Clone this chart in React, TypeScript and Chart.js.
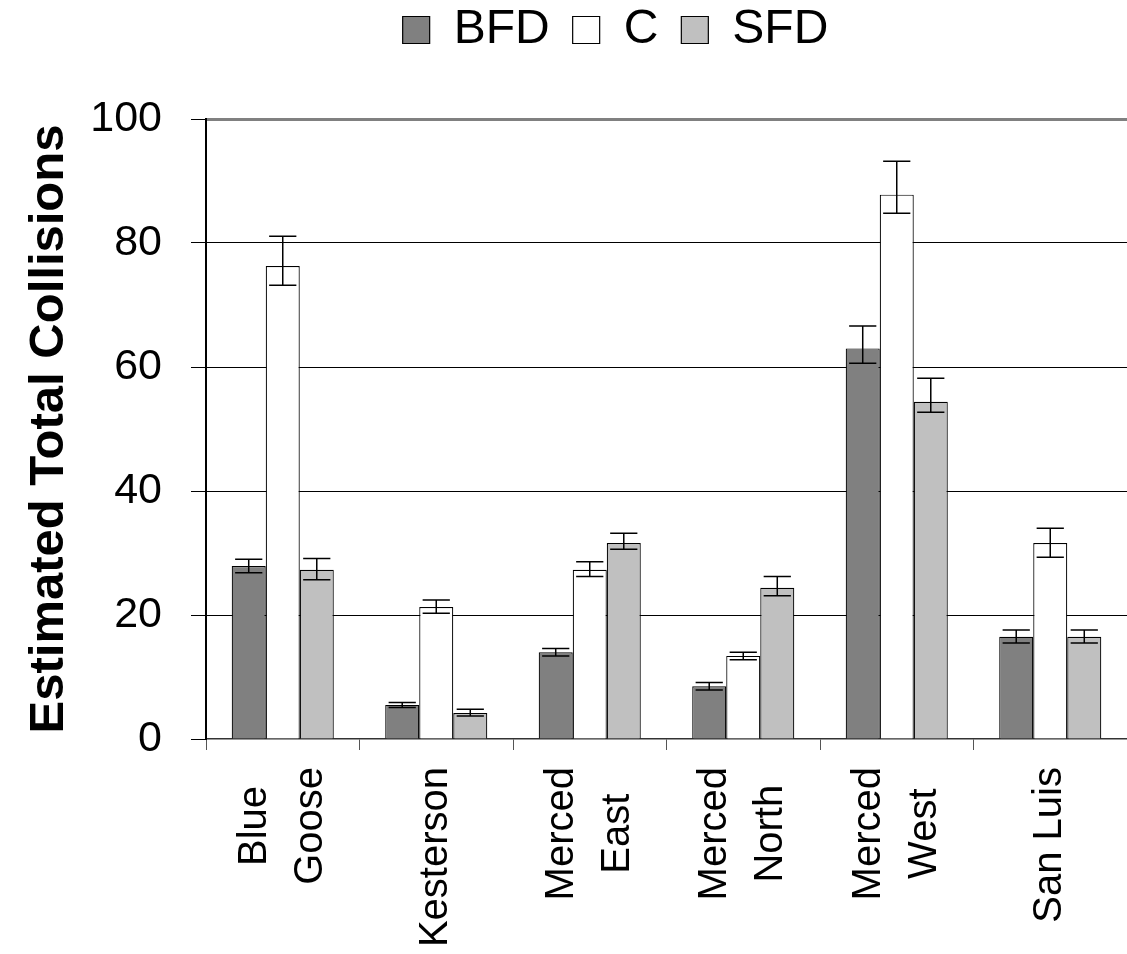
import React, { useEffect, useRef } from 'react';
import { Chart, registerables } from 'chart.js';

Chart.register(...registerables);

const categories: (string | string[])[] = [
  ['Blue', 'Goose'],
  'Kesterson',
  ['Merced', 'East'],
  ['Merced', 'North'],
  ['Merced', 'West'],
  'San Luis',
];
const seriesNames = ['BFD', 'C', 'SFD'];
const bfdValues = [27.9, 5.5, 14, 8.5, 63, 16.5];
const cValues = [76.3, 21.3, 27.3, 13.4, 87.8, 31.6];
const sfdValues = [27.3, 4.2, 31.6, 24.4, 54.4, 16.5];
// upper / lower error-bar extents
const bfdErrUp = [1.1, 0.4, 0.6, 0.6, 3.6, 1.1];
const bfdErrDown = [1.1, 0.4, 0.6, 0.6, 2.4, 1.0];
const cErrUp = [4.8, 1.1, 1.3, 0.6, 5.4, 2.4];
const cErrDown = [3.1, 1.0, 1.1, 0.6, 3.0, 2.3];
const sfdErrUp = [1.8, 0.6, 1.6, 1.8, 3.8, 1.1];
const sfdErrDown = [1.6, 0.5, 1.0, 1.3, 1.7, 1.0];
const yMin = 0;
const yMax = 100;
const yStep = 20;
const yTitle = 'Estimated Total Collisions';

const FONT = '"Liberation Sans", Arial, sans-serif';
const X_LABEL_SIZE = 40;
const X_LINE_SPACING = 56;
const X_LABEL_GAP = 28; // distance from axis line to top of labels

const errorBarPlugin = {
  id: 'errorBars',
  afterDatasetsDraw(chart: any) {
    const ctx = chart.ctx;
    const yScale = chart.scales.y;
    chart.data.datasets.forEach((ds: any, di: number) => {
      const meta = chart.getDatasetMeta(di);
      meta.data.forEach((bar: any, i: number) => {
        const v = ds.data[i];
        const x = bar.x;
        const yTop = yScale.getPixelForValue(v + ds.errUp[i]);
        const yBot = yScale.getPixelForValue(v - ds.errDown[i]);
        const cw = bar.width * 0.4;
        ctx.save();
        ctx.strokeStyle = '#000';
        ctx.lineWidth = 1.5;
        ctx.beginPath();
        ctx.moveTo(x, yTop);
        ctx.lineTo(x, yBot);
        ctx.moveTo(x - cw, yTop);
        ctx.lineTo(x + cw, yTop);
        ctx.moveTo(x - cw, yBot);
        ctx.lineTo(x + cw, yBot);
        ctx.stroke();
        ctx.restore();
      });
    });
  },
};

// Rotated, multi-line category labels with the lines centred on each other.
const xLabelPlugin = {
  id: 'xLabels',
  afterDraw(chart: any) {
    const ctx = chart.ctx;
    const xScale = chart.scales.x;
    const topY = chart.chartArea.bottom + X_LABEL_GAP;
    ctx.save();
    ctx.fillStyle = '#000';
    ctx.font = `${X_LABEL_SIZE}px ${FONT}`;
    ctx.textAlign = 'center';
    ctx.textBaseline = 'middle';
    (chart.data.labels as any[]).forEach((lab: any, i: number) => {
      const lines: string[] = Array.isArray(lab) ? lab : [lab];
      const cx = xScale.getPixelForTick(i);
      const maxW = Math.max(...lines.map((l) => ctx.measureText(l).width));
      const cy = topY + maxW / 2;
      lines.forEach((line, j) => {
        const lx = cx + (j - (lines.length - 1) / 2) * X_LINE_SPACING;
        ctx.save();
        ctx.translate(lx, cy);
        ctx.rotate(-Math.PI / 2);
        ctx.fillText(line, 0, 0);
        ctx.restore();
      });
    });
    ctx.restore();
  },
};

const legendShiftPlugin = {
  id: 'legendShift',
  afterLayout(chart: any) {
    const lg = chart.legend;
    if (lg) {
      lg.left += 104;
    }
  },
};

export default function App() {
  const canvasRef = useRef<HTMLCanvasElement | null>(null);

  useEffect(() => {
    if (!canvasRef.current) return;
    const fills = ['#808080', '#ffffff', '#c0c0c0'];
    const values = [bfdValues, cValues, sfdValues];
    const ups = [bfdErrUp, cErrUp, sfdErrUp];
    const downs = [bfdErrDown, cErrDown, sfdErrDown];
    const chart = new Chart(canvasRef.current, {
      type: 'bar',
      data: {
        labels: categories,
        datasets: seriesNames.map((name, i) => ({
          label: name,
          data: values[i],
          errUp: ups[i],
          errDown: downs[i],
          backgroundColor: fills[i],
          borderColor: '#000',
          borderWidth: 1.2,
          categoryPercentage: 0.665,
          barPercentage: 1,
        })) as any,
      },
      options: {
        animation: false,
        responsive: true,
        maintainAspectRatio: false,
        layout: { padding: { top: -17, left: 0, right: 0, bottom: 0 } },
        plugins: {
          legend: {
            position: 'top',
            weight: 3000,
            labels: {
              boxWidth: 27,
              boxHeight: 27,
              padding: 23,
              color: '#000',
              font: { family: FONT, size: 48 },
            },
          } as any,
          title: {
            display: true,
            text: ' ',
            font: { size: 10 },
            padding: { top: 0, bottom: 43 },
          },
          tooltip: { enabled: false },
        },
        scales: {
          x: {
            grid: {
              display: true,
              drawOnChartArea: false,
              color: '#555',
              tickLength: 11,
              offset: true,
            },
            border: { color: '#333', width: 1.5 },
            ticks: {
              color: 'rgba(0,0,0,0)',
              font: { family: FONT, size: X_LABEL_SIZE },
              maxRotation: 90,
              minRotation: 90,
              autoSkip: false,
            },
            afterFit: (s: any) => {
              s.height = 215;
            },
          },
          y: {
            min: yMin,
            max: yMax,
            ticks: {
              stepSize: yStep,
              color: '#000',
              padding: 29,
              font: { family: FONT, size: 43 },
            },
            grid: {
              color: (c: any) =>
                c.tick?.value === yMax ? '#808080' : c.tick?.value === yMin ? 'rgba(0,0,0,0)' : '#000',
              lineWidth: (c: any) => (c.tick?.value === yMax ? 3 : 1),
              tickColor: '#000',
              tickWidth: 1,
              tickLength: 15,
            },
            border: { color: '#000', width: 2 },
            title: {
              display: true,
              text: yTitle,
              color: '#000',
              font: { family: FONT, size: 49, weight: 'bold' },
              padding: { top: 20, bottom: 0 },
            },
            afterFit: (s: any) => {
              s.width = 206;
            },
          },
        },
      },
      plugins: [errorBarPlugin, xLabelPlugin, legendShiftPlugin],
    });
    return () => chart.destroy();
  }, []);

  return (
    <div style={{ position: 'absolute', left: 0, top: 0, width: 1127, height: 954 }}>
      <canvas ref={canvasRef} />
    </div>
  );
}
